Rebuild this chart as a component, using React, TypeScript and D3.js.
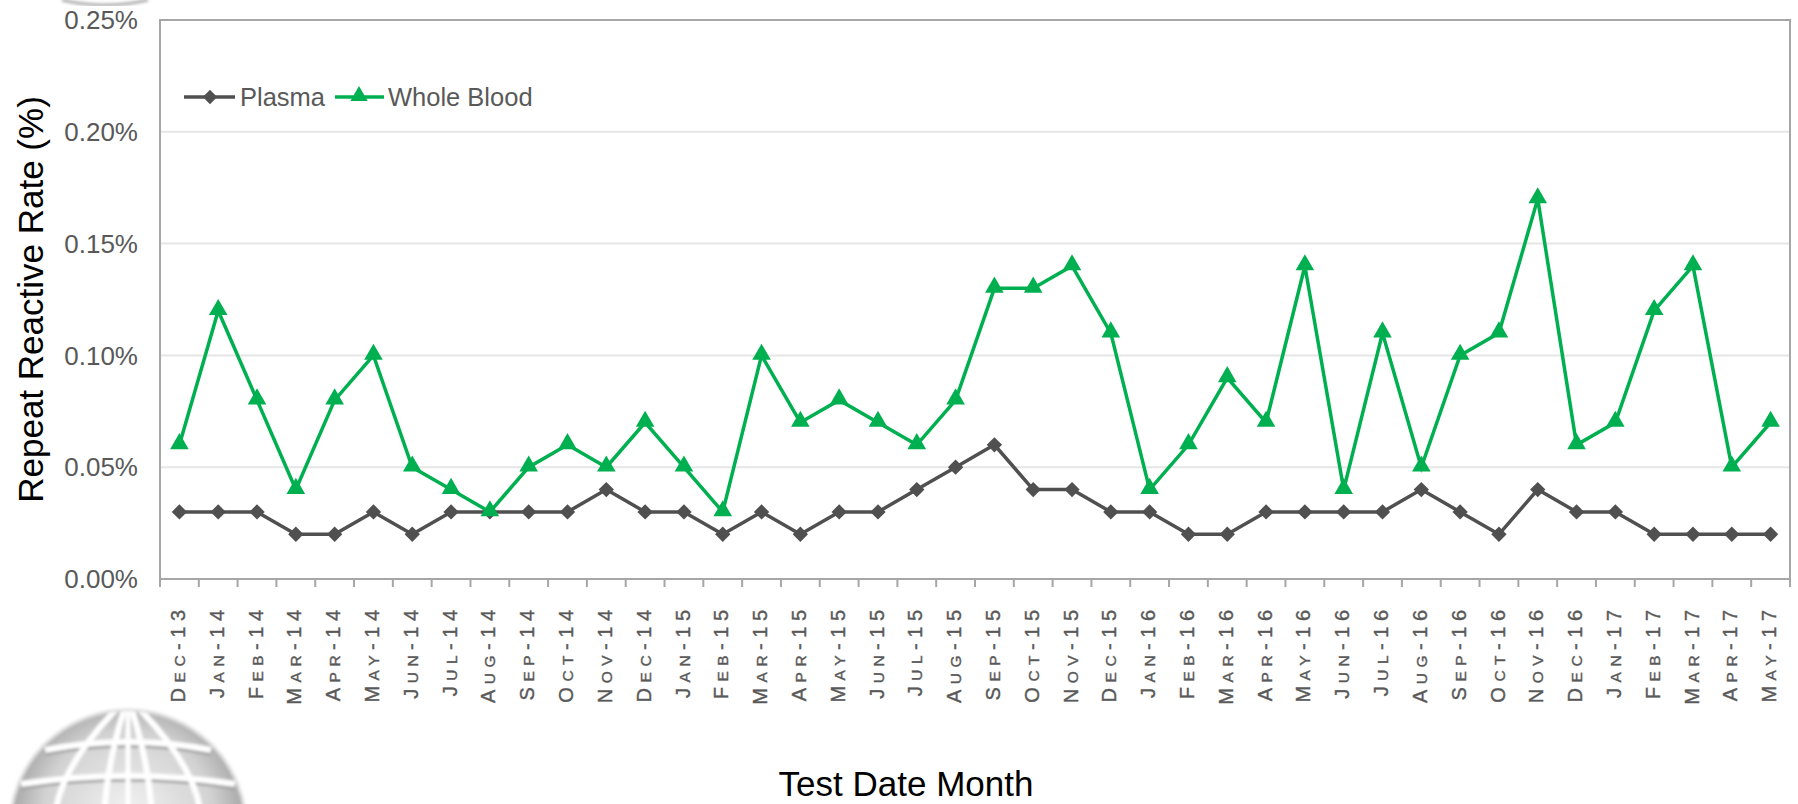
import React from "react";
import * as d3 from "d3";

const months = [
  "DEC-13","JAN-14","FEB-14","MAR-14","APR-14","MAY-14","JUN-14","JUL-14","AUG-14","SEP-14","OCT-14","NOV-14",
  "DEC-14","JAN-15","FEB-15","MAR-15","APR-15","MAY-15","JUN-15","JUL-15","AUG-15","SEP-15","OCT-15","NOV-15",
  "DEC-15","JAN-16","FEB-16","MAR-16","APR-16","MAY-16","JUN-16","JUL-16","AUG-16","SEP-16","OCT-16","NOV-16",
  "DEC-16","JAN-17","FEB-17","MAR-17","APR-17","MAY-17",
];

const plasma = [
  0.03,0.03,0.03,0.02,0.02,0.03,0.02,0.03,0.03,0.03,0.03,0.04,
  0.03,0.03,0.02,0.03,0.02,0.03,0.03,0.04,0.05,0.06,0.04,0.04,
  0.03,0.03,0.02,0.02,0.03,0.03,0.03,0.03,0.04,0.03,0.02,0.04,
  0.03,0.03,0.02,0.02,0.02,0.02,
];

const wholeBlood = [
  0.06,0.12,0.08,0.04,0.08,0.10,0.05,0.04,0.03,0.05,0.06,0.05,
  0.07,0.05,0.03,0.10,0.07,0.08,0.07,0.06,0.08,0.13,0.13,0.14,
  0.11,0.04,0.06,0.09,0.07,0.14,0.04,0.11,0.05,0.10,0.11,0.17,
  0.06,0.07,0.12,0.14,0.05,0.07,
];

const yTicks = [0, 0.05, 0.1, 0.15, 0.2, 0.25];

const W = 1798, H = 804;
const L = 160, R = 1790, T = 20, B = 579;

const TEXT_GRAY = "#595959";
const PLASMA_COLOR = "#505050";
const WB_COLOR = "#00b050";

function Globe() {
  const cx = 128, cy = 828, r = 118;
  const lats = [744, 778];
  const merid = [-0.62, -0.2, 0.2, 0.62];
  return (
    <g>
      <defs>
        <radialGradient id="globeGrad" cx="50%" cy="45%" r="60%">
          <stop offset="0%" stopColor="#f2f2f2" />
          <stop offset="60%" stopColor="#d2d2d2" />
          <stop offset="100%" stopColor="#858585" />
        </radialGradient>
        <clipPath id="globeClip">
          <circle cx={cx} cy={cy} r={r} />
        </clipPath>
        <filter id="blur1">
          <feGaussianBlur stdDeviation="1.6" />
        </filter>
      </defs>
      <g filter="url(#blur1)">
        <circle cx={cx} cy={cy} r={r} fill="url(#globeGrad)" />
        <g clipPath="url(#globeClip)" fill="none">
          {lats.map((y, i) => {
            const dy = cy - y;
            const hw = Math.sqrt(r * r - dy * dy);
            return (
              <g key={"l" + i}>
                <path d={`M${cx - hw},${y + 9} Q${cx},${y - 7} ${cx + hw},${y + 9}`} stroke="#9a9a9a" strokeWidth={5} />
                <path d={`M${cx - hw},${y + 6} Q${cx},${y - 10} ${cx + hw},${y + 6}`} stroke="#ffffff" strokeWidth={6} />
              </g>
            );
          })}
          {merid.map((m, i) => (
            <path
              key={"m" + i}
              d={`M${cx + m * 20},${cy - r} Q${cx + m * r * 1.1},${cy - r * 0.4} ${cx + m * r * 1.0},${cy + 10}`}
              stroke="#ffffff"
              strokeWidth={6}
            />
          ))}
          <line x1={cx} y1={cy - r} x2={cx} y2={cy + 20} stroke="#ffffff" strokeWidth={5} />
        </g>
        <circle cx={cx} cy={cy} r={r} fill="none" stroke="#e0e0e0" strokeWidth={3} />
      </g>
    </g>
  );
}

const LS = 5.5;

function MonthLabel({ label, x }: { label: string; x: number }) {
  const first = label[0];
  const [mon, yr] = label.split("-");
  const rest = mon.slice(1);
  return (
    <text
      transform={`translate(${x},${599 + LS}) rotate(-90)`}
      textAnchor="end"
      dy="0.35em"
      fontFamily="Liberation Sans, Arial, sans-serif"
      fill={TEXT_GRAY}
      stroke={TEXT_GRAY}
      strokeWidth={0.4}
      letterSpacing={LS}
    >
      <tspan fontSize={20}>{first}</tspan>
      <tspan fontSize={15.5}>{rest}</tspan>
      <tspan fontSize={20}>{"-" + yr}</tspan>
    </text>
  );
}

export default function App() {
  const x = d3.scaleBand<string>().domain(months).range([L, R]).padding(0);
  const y = d3.scaleLinear().domain([0, 0.25]).range([B, T]);
  const cxOf = (m: string) => (x(m) as number) + x.bandwidth() / 2;

  const line = d3
    .line<number>()
    .x((_, i) => cxOf(months[i]))
    .y((d) => y(d));

  const diamond = d3.symbol().type(d3.symbolDiamond2).size(150)() as string;
  const triangle = d3.symbol().type(d3.symbolTriangle).size(150)() as string;
  const diamondL = d3.symbol().type(d3.symbolDiamond2).size(130)() as string;
  const triangleL = d3.symbol().type(d3.symbolTriangle).size(130)() as string;

  const font = "Liberation Sans, Arial, sans-serif";

  return (
    <svg width={W} height={H} style={{ position: "absolute", left: 0, top: 0, background: "#fff" }}>
      <rect x={0} y={0} width={W} height={H} fill="#fff" />
      {/* partial logo at top-left */}
      <path d="M62,0 Q105,10 148,0" fill="none" stroke="#b0b0b0" strokeWidth={3} filter="url(#blur1)" />

      {/* grid */}
      {yTicks.map((t) => (
        <line key={t} x1={L} x2={R} y1={y(t)} y2={y(t)} stroke="#e6e6e6" strokeWidth={2} />
      ))}

      {/* plot box */}
      <rect x={L} y={T} width={R - L} height={B - T} fill="none" stroke="#a6a6a6" strokeWidth={2} />

      {/* x ticks */}
      {d3.range(months.length + 1).map((i) => {
        const xx = L + i * x.bandwidth();
        return <line key={i} x1={xx} x2={xx} y1={B} y2={B + 8} stroke="#a6a6a6" strokeWidth={2} />;
      })}

      {/* y tick labels */}
      {yTicks.map((t) => (
        <text
          key={t}
          x={138}
          y={y(t)}
          dy="0.35em"
          textAnchor="end"
          fontFamily={font}
          fontSize={26}
          fill={TEXT_GRAY}
        >
          {d3.format(".2%")(t / 100)}
        </text>
      ))}

      {/* x tick labels */}
      {months.map((m) => (
        <MonthLabel key={m} label={m} x={cxOf(m)} />
      ))}

      {/* series */}
      <path d={line(plasma) as string} fill="none" stroke={PLASMA_COLOR} strokeWidth={3.5} />
      {plasma.map((v, i) => (
        <path key={"p" + i} d={diamond} transform={`translate(${cxOf(months[i])},${y(v)})`} fill={PLASMA_COLOR} />
      ))}
      <path d={line(wholeBlood) as string} fill="none" stroke={WB_COLOR} strokeWidth={3.5} />
      {wholeBlood.map((v, i) => (
        <path key={"w" + i} d={triangle} transform={`translate(${cxOf(months[i])},${y(v) - 1})`} fill={WB_COLOR} />
      ))}

      {/* legend */}
      <g>
        <line x1={184} x2={235} y1={97} y2={97} stroke={PLASMA_COLOR} strokeWidth={3.5} />
        <path d={diamondL} transform="translate(210,97)" fill={PLASMA_COLOR} />
        <text x={240} y={97} dy="0.35em" fontFamily={font} fontSize={25.5} fill={TEXT_GRAY}>Plasma</text>
        <line x1={335} x2={384} y1={97} y2={97} stroke={WB_COLOR} strokeWidth={3.5} />
        <path d={triangleL} transform="translate(359,96)" fill={WB_COLOR} />
        <text x={388} y={97} dy="0.35em" fontFamily={font} fontSize={25.5} fill={TEXT_GRAY}>Whole Blood</text>
      </g>

      {/* axis titles */}
      <text
        transform={`translate(31,${(T + B) / 2}) rotate(-90)`}
        textAnchor="middle"
        dy="0.35em"
        fontFamily={font}
        fontSize={35}
        fill="#000"
      >
        Repeat Reactive Rate (%)
      </text>
      <text x={906} y={796} textAnchor="middle" fontFamily={font} fontSize={35} fill="#000">
        Test Date Month
      </text>

      <Globe />
    </svg>
  );
}
